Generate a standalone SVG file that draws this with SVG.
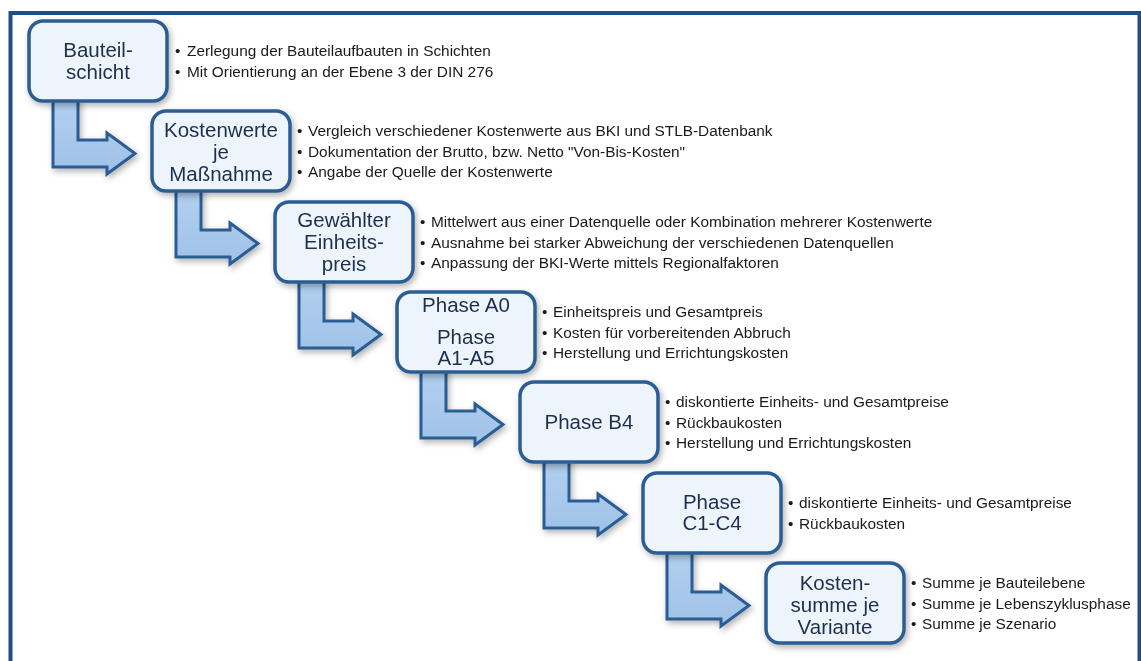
<svg xmlns="http://www.w3.org/2000/svg" width="1141" height="661" viewBox="0 0 1141 661">
<defs>
<style>
.box{fill:#eef4fb;stroke:#2b5d93;stroke-width:3.5}
.lbl{font-family:"Liberation Sans",Arial,sans-serif;font-size:20.5px;fill:#1c2f4d;text-anchor:middle}
.bul{font-family:"Liberation Sans",Arial,sans-serif;font-size:15.4px;fill:#1a1a1a}
.arr{fill:url(#ag);stroke:#2b5d93;stroke-width:3;stroke-linejoin:miter}
</style>
<linearGradient id="ag" x1="0" y1="0" x2="0" y2="1">
<stop offset="0" stop-color="#b3d0ef"/>
<stop offset="1" stop-color="#9fc2e8"/>
</linearGradient>
<filter id="sh" x="-20%" y="-20%" width="140%" height="150%">
<feDropShadow dx="2" dy="3" stdDeviation="3" flood-color="#000" flood-opacity="0.3"/>
</filter>
<path id="arrow" class="arr" d="M24,78 V146 H78 V153 L106,132.5 L78,112 V119 H49 V78 Z"/>
</defs>
<rect x="0" y="0" width="1141" height="661" fill="#fff"/>
<rect x="10.5" y="13" width="1129" height="700" fill="none" stroke="#1f4e85" stroke-width="4"/>
<g id="connectors" filter="url(#sh)">
<use href="#arrow" transform="translate(29,21)"/>
<use href="#arrow" transform="translate(152,111)"/>
<use href="#arrow" transform="translate(275,202)"/>
<use href="#arrow" transform="translate(397,292)"/>
<use href="#arrow" transform="translate(520,382)"/>
<use href="#arrow" transform="translate(643,473)"/>
</g>
<g id="n1">
<rect class="box" x="29" y="21" width="138" height="80" rx="14" filter="url(#sh)"/>
<text class="lbl" x="98" y="57">Bauteil-</text>
<text class="lbl" x="98" y="79">schicht</text>
<text class="bul" x="175" y="56">•</text><text class="bul" x="187" y="56">Zerlegung der Bauteilaufbauten in Schichten</text>
<text class="bul" x="175" y="76.5">•</text><text class="bul" x="187" y="76.5">Mit Orientierung an der Ebene 3 der DIN 276</text>
</g>
<g id="n2">
<rect class="box" x="152" y="111" width="138" height="80" rx="14" filter="url(#sh)"/>
<text class="lbl" x="221" y="137">Kostenwerte</text>
<text class="lbl" x="221" y="159">je</text>
<text class="lbl" x="221" y="181">Maßnahme</text>
<text class="bul" x="297" y="136">•</text><text class="bul" x="308" y="136">Vergleich verschiedener Kostenwerte aus BKI und STLB-Datenbank</text>
<text class="bul" x="297" y="156.5">•</text><text class="bul" x="308" y="156.5">Dokumentation der Brutto, bzw. Netto "Von-Bis-Kosten"</text>
<text class="bul" x="297" y="177">•</text><text class="bul" x="308" y="177">Angabe der Quelle der Kostenwerte</text>
</g>
<g id="n3">
<rect class="box" x="275" y="202" width="138" height="80" rx="14" filter="url(#sh)"/>
<text class="lbl" x="344" y="227">Gewählter</text>
<text class="lbl" x="344" y="249">Einheits-</text>
<text class="lbl" x="344" y="271">preis</text>
<text class="bul" x="420" y="227">•</text><text class="bul" x="431" y="227">Mittelwert aus einer Datenquelle oder Kombination mehrerer Kostenwerte</text>
<text class="bul" x="420" y="247.5">•</text><text class="bul" x="431" y="247.5">Ausnahme bei starker Abweichung der verschiedenen Datenquellen</text>
<text class="bul" x="420" y="268">•</text><text class="bul" x="431" y="268">Anpassung der BKI-Werte mittels Regionalfaktoren</text>
</g>
<g id="n4">
<rect class="box" x="397" y="292" width="138" height="80" rx="14" filter="url(#sh)"/>
<text class="lbl" x="466" y="312">Phase A0</text>
<text class="lbl" x="466" y="344">Phase</text>
<text class="lbl" x="466" y="365">A1-A5</text>
<text class="bul" x="542" y="317">•</text><text class="bul" x="553" y="317">Einheitspreis und Gesamtpreis</text>
<text class="bul" x="542" y="337.5">•</text><text class="bul" x="553" y="337.5">Kosten für vorbereitenden Abbruch</text>
<text class="bul" x="542" y="358">•</text><text class="bul" x="553" y="358">Herstellung und Errichtungskosten</text>
</g>
<g id="n5">
<rect class="box" x="520" y="382" width="138" height="80" rx="14" filter="url(#sh)"/>
<text class="lbl" x="589" y="429">Phase B4</text>
<text class="bul" x="665" y="407">•</text><text class="bul" x="676" y="407">diskontierte Einheits- und Gesamtpreise</text>
<text class="bul" x="665" y="427.5">•</text><text class="bul" x="676" y="427.5">Rückbaukosten</text>
<text class="bul" x="665" y="448">•</text><text class="bul" x="676" y="448">Herstellung und Errichtungskosten</text>
</g>
<g id="n6">
<rect class="box" x="643" y="473" width="138" height="80" rx="14" filter="url(#sh)"/>
<text class="lbl" x="712" y="509">Phase</text>
<text class="lbl" x="712" y="530">C1-C4</text>
<text class="bul" x="788" y="508">•</text><text class="bul" x="799" y="508">diskontierte Einheits- und Gesamtpreise</text>
<text class="bul" x="788" y="528.5">•</text><text class="bul" x="799" y="528.5">Rückbaukosten</text>
</g>
<g id="n7">
<rect class="box" x="766" y="563" width="138" height="80" rx="14" filter="url(#sh)"/>
<text class="lbl" x="835" y="590">Kosten-</text>
<text class="lbl" x="835" y="612">summe je</text>
<text class="lbl" x="835" y="634">Variante</text>
<text class="bul" x="911" y="588">•</text><text class="bul" x="922" y="588">Summe je Bauteilebene</text>
<text class="bul" x="911" y="608.5">•</text><text class="bul" x="922" y="608.5">Summe je Lebenszyklusphase</text>
<text class="bul" x="911" y="629">•</text><text class="bul" x="922" y="629">Summe je Szenario</text>
</g>
</svg>
